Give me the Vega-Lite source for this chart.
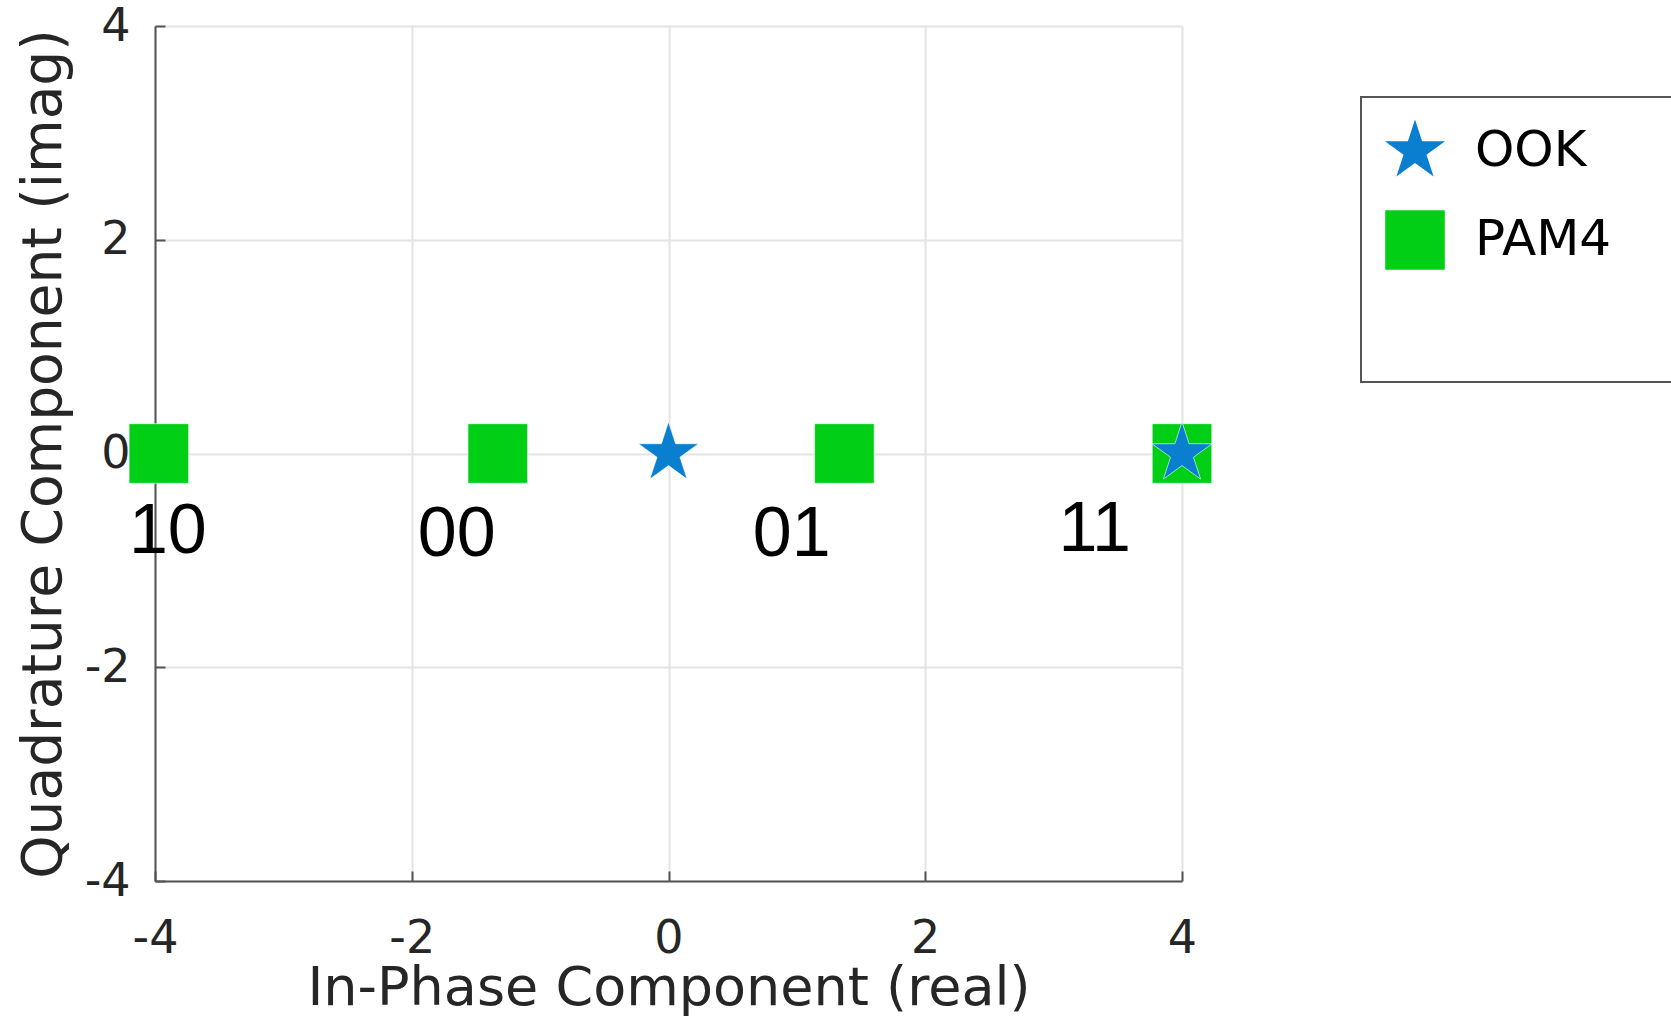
{
  "$schema": "https://vega.github.io/schema/vega-lite/v6.json",
  "width": 1027,
  "height": 855,
  "autosize": {"type": "none"},
  "padding": {"left": 155, "top": 26, "right": 489, "bottom": 138},
  "background": "white",
  "datasets": {
    "pts": [
      {"real": -3.97, "imag": 0, "scheme": "PAM4"},
      {"real": -1.33, "imag": 0, "scheme": "PAM4"},
      {"real": 1.37, "imag": 0, "scheme": "PAM4"},
      {"real": 4.0, "imag": 0, "scheme": "PAM4"},
      {"real": 0.0, "imag": 0, "scheme": "OOK"},
      {"real": 4.0, "imag": 0, "scheme": "OOK"}
    ],
    "labels": [
      {"real": -3.9, "imag": -0.73, "bits": "10"},
      {"real": -1.65, "imag": -0.76, "bits": "00"},
      {"real": 0.96, "imag": -0.76, "bits": "01"},
      {"real": 3.32, "imag": -0.72, "bits": "11"}
    ]
  },
  "layer": [
    {
      "data": {"name": "pts"},
      "mark": {"type": "point", "filled": true, "opacity": 1, "stroke": "#ffffff", "strokeWidth": 1, "strokeOpacity": 0.6},
      "encoding": {
        "x": {
          "field": "real", "type": "quantitative",
          "scale": {"domain": [-4, 4], "nice": false, "zero": false},
          "axis": {"values": [-4, -2, 0, 2, 4], "title": "In-Phase Component (real)", "labelExpr": "'' + datum.value", "labelPadding": 45, "titlePadding": 0}
        },
        "y": {
          "field": "imag", "type": "quantitative",
          "scale": {"domain": [-4, 4], "nice": false, "zero": false},
          "axis": {"values": [-4, -2, 0, 2, 4], "title": "Quadrature Component (imag)", "labelExpr": "'' + datum.value", "labelPadding": 35, "titlePadding": 12, "titleFontSize": 55}
        },
        "shape": {
          "field": "scheme", "type": "nominal",
          "scale": {"domain": ["OOK", "PAM4"], "range": ["M0,-1L0.2245,-0.309L0.951,-0.309L0.363,0.118L0.588,0.809L0,0.382L-0.588,0.809L-0.363,0.118L-0.951,-0.309L-0.2245,-0.309Z", "square"]},
          "legend": {"title": ".........................."}
        },
        "color": {
          "field": "scheme", "type": "nominal",
          "scale": {"domain": ["OOK", "PAM4"], "range": ["#0a7fd0", "#00cf16"]},
          "legend": {"title": ".........................."}
        },
        "size": {
          "field": "scheme", "type": "nominal",
          "scale": {"domain": ["OOK", "PAM4"], "range": [4000, 3550]},
          "legend": {"title": ".........................."}
        },
        "order": {"field": "scheme", "sort": "descending"}
      }
    },
    {
      "data": {"name": "labels"},
      "mark": {"type": "text", "font": "Liberation Sans", "fontSize": 70, "color": "#000000", "align": "center", "baseline": "middle"},
      "encoding": {
        "x": {"field": "real", "type": "quantitative"},
        "y": {"field": "imag", "type": "quantitative"},
        "text": {"field": "bits"}
      }
    }
  ],
  "config": {
    "view": {"stroke": null},
    "axis": {
      "domainColor": "#555555",
      "domainWidth": 2,
      "tickColor": "#555555",
      "tickWidth": 2,
      "tickSize": -10,
      "grid": true,
      "gridColor": "#e4e4e4",
      "gridWidth": 2,
      "labelFont": "DejaVu Sans",
      "labelFontSize": 46,
      "labelColor": "#262626",
      "labelFlush": false,
      "labelOverlap": false,
      "titleFont": "DejaVu Sans",
      "titleFontSize": 54,
      "titleFontWeight": "normal",
      "titleColor": "#262626"
    },
    "legend": {
      "orient": "none",
      "legendX": 1206,
      "legendY": 71,
      "strokeColor": "#555555",
      "strokeWidth": 2,
      "fillColor": "#ffffff",
      "padding": 22,
      "rowPadding": 33,
      "symbolOpacity": 1,
      "symbolStrokeWidth": 0,
      "labelFont": "DejaVu Sans",
      "labelFontSize": 50,
      "labelColor": "#000000",
      "labelOffset": 28,
      "labelLimit": 400,
      "titleOpacity": 0,
      "titleOrient": "bottom",
      "titleFont": "DejaVu Sans",
      "titleFontSize": 40,
      "titlePadding": 50,
      "titleLimit": 2000
    }
  }
}
